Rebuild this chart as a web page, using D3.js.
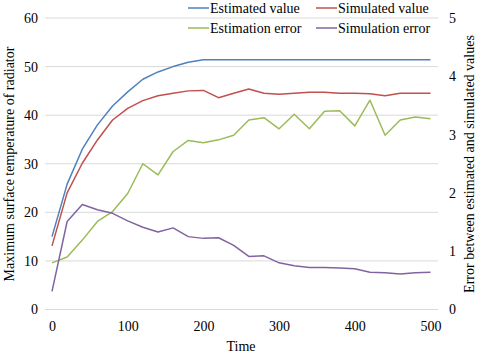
<!DOCTYPE html>
<html>
<head>
<meta charset="utf-8">
<script src="https://cdn.jsdelivr.net/npm/d3@7"></script>
<style>
  body { margin: 0; background: #fff; }
  text { font-family: "Liberation Serif", "Times New Roman", serif; fill: #000; }
</style>
</head>
<body>
<div id="chart"></div>
<script>
// chart data
var times = [0, 20, 40, 60, 80, 100, 120, 140, 160, 180, 200, 220, 240, 260, 280, 300, 320, 340, 360, 380, 400, 420, 440, 460, 480, 500]
var estimatedValue = [15.0, 25.8, 33.0, 38.0, 41.9, 44.8, 47.4, 48.9, 50.0, 50.9, 51.4, 51.4, 51.4, 51.4, 51.4, 51.4, 51.4, 51.4, 51.4, 51.4, 51.4, 51.4, 51.4, 51.4, 51.4, 51.4]
var simulatedValue = [13.1, 24.0, 30.1, 34.9, 39.0, 41.4, 43.0, 44.0, 44.5, 45.0, 45.1, 43.6, 44.5, 45.4, 44.5, 44.3, 44.5, 44.7, 44.7, 44.5, 44.5, 44.4, 44.0, 44.5, 44.5, 44.5]
var estimationError = [0.80, 0.90, 1.19, 1.51, 1.68, 1.99, 2.50, 2.31, 2.71, 2.90, 2.86, 2.91, 2.99, 3.25, 3.29, 3.10, 3.35, 3.10, 3.40, 3.41, 3.15, 3.59, 2.99, 3.25, 3.30, 3.27]
var simulationError = [0.31, 1.51, 1.80, 1.71, 1.65, 1.52, 1.41, 1.33, 1.40, 1.25, 1.22, 1.23, 1.10, 0.91, 0.92, 0.80, 0.75, 0.72, 0.72, 0.71, 0.70, 0.64, 0.63, 0.61, 0.63, 0.64]
var xTicks = [0, 100, 200, 300, 400, 500]
var leftTicks = [0, 10, 20, 30, 40, 50, 60]
var rightTicks = [0, 1, 2, 3, 4, 5]

var width = 480
var height = 353
var serif = "Liberation Serif, Times New Roman, serif"

var svg = d3.select("#chart")
  .append("svg")
    .attr("width", width)
    .attr("height", height);

// plot area (gridlines run a little past 0 and 500 like Excel)
var gridLeft = 45, gridRight = 438

var x = d3.scaleLinear().domain([0, 500]).range([52, 430.5])
var yL = d3.scaleLinear().domain([0, 60]).range([309.5, 18])
var yR = d3.scaleLinear().domain([0, 5]).range([309.5, 18])

// horizontal gridlines
svg.selectAll(".grid")
  .data(leftTicks)
  .enter()
  .append("line")
    .attr("x1", gridLeft)
    .attr("x2", gridRight)
    .attr("y1", function(d){ return yL(d) })
    .attr("y2", function(d){ return yL(d) })
    .attr("stroke", "#d9d9d9")
    .attr("stroke-width", 1);

function styleAxis(g) {
  g.attr("font-family", serif).attr("font-size", 14)
  g.select(".domain").remove()
  g.selectAll("text").attr("fill", "#000")
}

// left axis labels
svg.append("g")
  .attr("transform", "translate(" + (gridLeft - 7) + ",0)")
  .call(d3.axisLeft(yL).tickValues(leftTicks).tickSize(0).tickPadding(0).tickFormat(d3.format("d")))
  .call(styleAxis)

// right axis labels
svg.append("g")
  .attr("transform", "translate(" + (gridRight + 11) + ",0)")
  .call(d3.axisRight(yR).tickValues(rightTicks).tickSize(0).tickPadding(0).tickFormat(d3.format("d")))
  .call(styleAxis)

// bottom axis labels
svg.append("g")
  .attr("transform", "translate(0," + (yL(0) + 12) + ")")
  .call(d3.axisBottom(x).tickValues(xTicks).tickSize(0).tickPadding(0).tickFormat(d3.format("d")))
  .call(styleAxis)

// axis titles
svg.append("text")
  .attr("x", 241).attr("y", 351)
  .attr("text-anchor", "middle")
  .style("font-size", "14px")
  .text("Time");

svg.append("text")
  .attr("transform", "translate(14,164) rotate(-90)")
  .attr("text-anchor", "middle")
  .style("font-size", "14px")
  .text("Maximum surface temperature of radiator");

svg.append("text")
  .attr("transform", "translate(474,164) rotate(-90)")
  .attr("text-anchor", "middle")
  .style("font-size", "14px")
  .text("Error between estimated and simulated values");

// series
var series = [
  { name: "Estimated value", values: estimatedValue, y: yL, color: "#4F81BD" },
  { name: "Simulated value", values: simulatedValue, y: yL, color: "#C0504D" },
  { name: "Estimation error", values: estimationError, y: yR, color: "#9BBB59" },
  { name: "Simulation error", values: simulationError, y: yR, color: "#8064A2" }
]

series.forEach(function(s){
  var line = d3.line()
    .x(function(d, i){ return x(times[i]) })
    .y(function(d){ return s.y(d) })
  svg.append("path")
    .datum(s.values)
    .attr("d", line)
    .attr("fill", "none")
    .attr("stroke", s.color)
    .attr("stroke-width", 1.5)
    .attr("stroke-linejoin", "round");
})

// legend, two rows by two columns
var legendPos = [[188, 8], [316, 8], [188, 28], [316, 28]]
var legend = svg.selectAll(".legend")
  .data(series)
  .enter()
  .append("g")
    .attr("transform", function(d, i){ return "translate(" + legendPos[i][0] + "," + legendPos[i][1] + ")" })
legend.append("line")
  .attr("x1", 0).attr("x2", 21)
  .attr("stroke", function(d){ return d.color })
  .attr("stroke-width", 1.5)
legend.append("text")
  .attr("x", 22).attr("y", 5)
  .style("font-size", "14px")
  .text(function(d){ return d.name });
</script>
</body>
</html>
